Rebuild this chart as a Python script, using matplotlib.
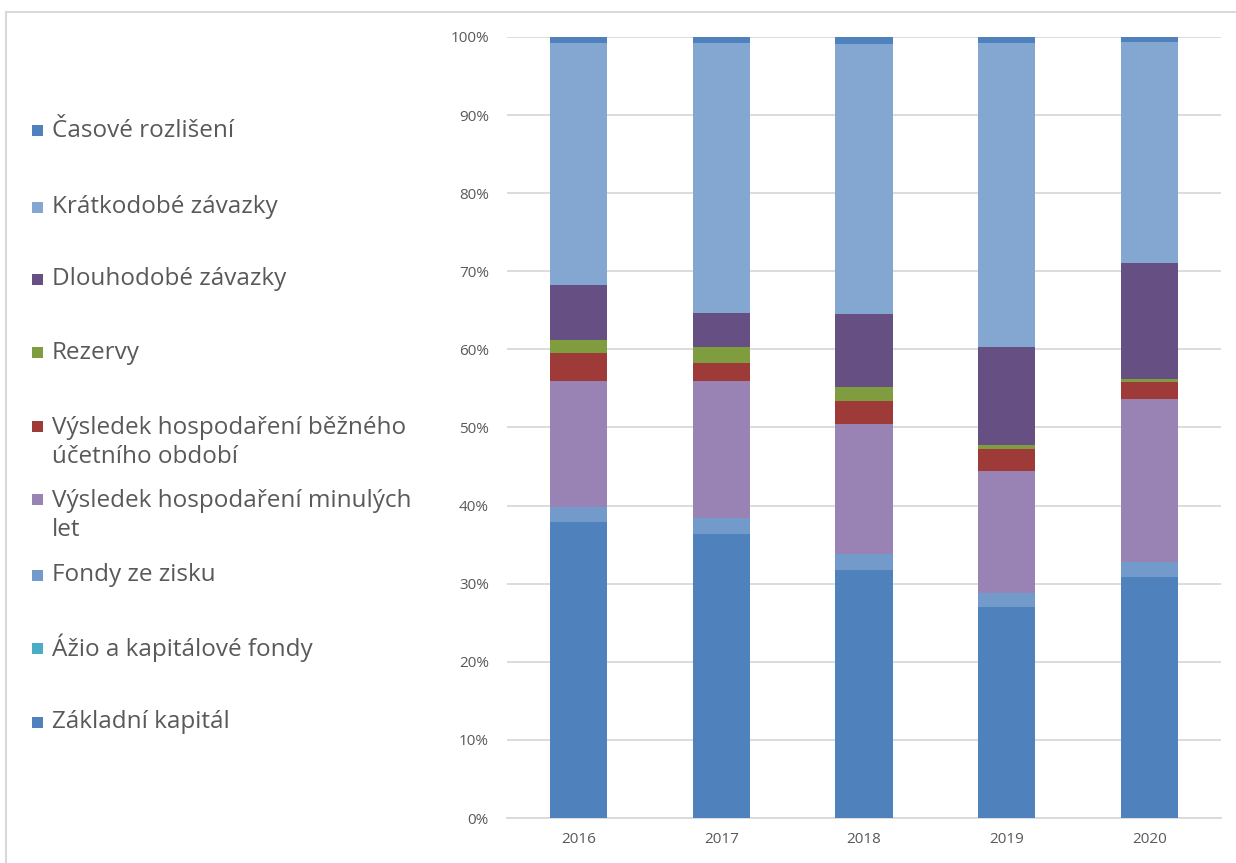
import matplotlib.pyplot as plt
import numpy as np
from matplotlib.lines import Line2D
from matplotlib.patches import Rectangle
from matplotlib.ticker import PercentFormatter

plt.rcParams["font.family"] = ["Open Sans", "DejaVu Sans"]

YEARS = ["2016", "2017", "2018", "2019", "2020"]

# shares of total liabilities, in percent (bottom to top of each bar)
ZAKLADNI_KAPITAL = [37.9, 36.3, 31.8, 27.0, 30.8]
AZIO = [0.0, 0.0, 0.0, 0.0, 0.0]
FONDY_ZE_ZISKU = [1.9, 2.1, 2.0, 1.8, 2.0]
VH_MINULYCH_LET = [16.2, 17.6, 16.6, 15.6, 20.8]
VH_BEZNEHO_OBDOBI = [3.6, 2.3, 3.0, 2.8, 2.2]
REZERVY = [1.6, 2.0, 1.8, 0.5, 0.4]
DLOUHODOBE_ZAVAZKY = [7.0, 4.4, 9.3, 12.6, 14.8]
KRATKODOBE_ZAVAZKY = [31.0, 34.5, 34.6, 38.9, 28.4]
CASOVE_ROZLISENI = [0.8, 0.8, 0.9, 0.8, 0.6]

SERIES = [
    ("Základní kapitál", ZAKLADNI_KAPITAL, "#4f81bd"),
    ("Ážio a kapitálové fondy", AZIO, "#4bacc6"),
    ("Fondy ze zisku", FONDY_ZE_ZISKU, "#729aca"),
    ("Výsledek hospodaření minulých\nlet", VH_MINULYCH_LET, "#9983b5"),
    ("Výsledek hospodaření běžného\núčetního období", VH_BEZNEHO_OBDOBI, "#9e3b39"),
    ("Rezervy", REZERVY, "#7f9c3f"),
    ("Dlouhodobé závazky", DLOUHODOBE_ZAVAZKY, "#654f83"),
    ("Krátkodobé závazky", KRATKODOBE_ZAVAZKY, "#84a7d1"),
    ("Časové rozlišení", CASOVE_ROZLISENI, "#4f81bd"),
]

W, H = 1236, 863
GRID = "#d9d9d9"
TEXT = "#595959"

fig = plt.figure(figsize=(W / 100, H / 100), dpi=100)
ax = fig.add_axes([507 / W, (H - 818) / H, 714 / W, 781 / H])

x = np.arange(len(YEARS))
bottom = np.zeros(len(YEARS))
for label, values, color in SERIES:
    ax.bar(x, values, 0.4, bottom=bottom, color=color, linewidth=0, zorder=3)
    bottom += np.array(values)

ax.set_xlim(-0.5, len(YEARS) - 0.5)
ax.set_ylim(0, 100)
ax.set_yticks(np.arange(0, 101, 10))
ax.yaxis.set_major_formatter(PercentFormatter(decimals=0))
ax.set_xticks(x, YEARS)
ax.grid(axis="y", color=GRID, linewidth=1.3, zorder=0)
for side in ("left", "right", "top"):
    ax.spines[side].set_visible(False)
ax.spines["bottom"].set_color(GRID)
ax.spines["bottom"].set_linewidth(1.3)
ax.tick_params(axis="both", length=0, labelsize=11, labelcolor=TEXT)
ax.tick_params(axis="y", pad=13)
ax.tick_params(axis="x", pad=10)

# chart frame
fig.add_artist(Line2D([6 / W, 6 / W], [0, 1 - 12 / H], color=GRID, linewidth=1.5))
fig.add_artist(Line2D([6 / W, 1], [1 - 12 / H, 1 - 12 / H], color=GRID, linewidth=1.5))

# legend, top entry first
legend_rows = [131, 207, 279, 353, 427, 500, 575, 648, 722]
line_step = 31
for (label, _, color), y in zip(reversed(SERIES), legend_rows):
    n_lines = label.count("\n") + 1
    fig.add_artist(Rectangle((32 / W, 1 - (y + 5.5) / H), 11 / W, 11 / H,
                             facecolor=color, edgecolor="none",
                             transform=fig.transFigure))
    text_mid = y + (n_lines - 1) * line_step / 2
    fig.text(52 / W, 1 - text_mid / H, label, fontsize=17.5, color=TEXT,
             va="center", ha="left", linespacing=1.25)

fig.savefig("out.png", dpi=100)
